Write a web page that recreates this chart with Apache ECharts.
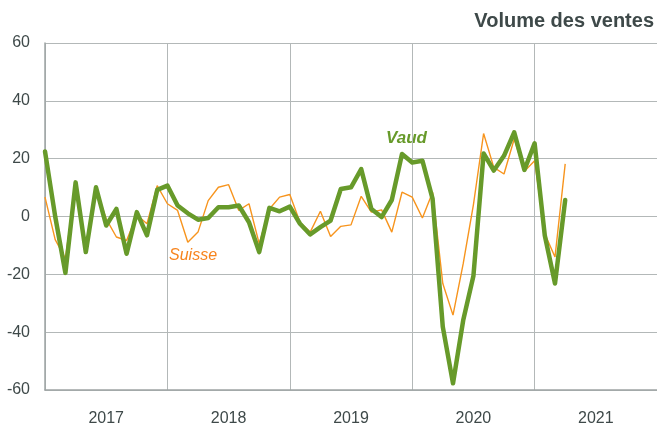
<!DOCTYPE html>
<html>
<head>
<meta charset="utf-8">
<script src="https://cdn.jsdelivr.net/npm/echarts@6/dist/echarts.min.js"></script>
<style>
html,body{margin:0;padding:0;background:#fff;}
#chart{width:657px;height:427px;}
</style>
</head>
<body>
<div id="chart"></div>
<script>
// Month index 0 = January 2017
const years = ['2017', '2018', '2019', '2020', '2021'];
const yTicks = [-60, -40, -20, 0, 20, 40, 60];
const vaud = [22.5, 0, -19.5, 11.8, -12.3, 10.1, -3.1, 2.6, -12.9, 1.5, -6.5, 9.2,
  10.7, 3.8, 1.1, -1.1, -0.5, 3.2, 3.2, 3.8, -2, -12.3, 3, 1.8,
  3.4, -2.5, -6.2, -3.7, -1.4, 9.5, 10.1, 16.4, 2.6, -0.2, 5.7, 21.6,
  18.7, 19.3, 6.1, -38.2, -57.7, -35.9, -20.6, 21.8, 15.9, 21, 29.1, 16.1,
  25.3, -6.6, -23.2, 5.7];
const suisse = [6.7, -8, -14.5, 11, -11.5, 9.5, -0.8, -7.1, -8.3, 0.5, -2.5, 10.7,
  4.4, 2.1, -8.9, -5.4, 5.5, 10.1, 11, 2.1, 4.4, -9.4, 2.6, 6.7,
  7.6, -2, -5.4, 1.8, -6.9, -3.4, -2.9, 7, 1.5, 2.3, -5.4, 8.4,
  6.7, -0.5, 8.4, -23.2, -34.1, -16.3, 4, 28.7, 17, 14.7, 26.8, 15.6,
  19.3, -6, -14, 18.2];
const title = 'Volume des ventes';

const toPairs = arr => arr.map((v, i) => [i, v]);
const gridColor = '#b3b8b8';
const textColor = '#3e4949';

const chart = echarts.init(document.getElementById('chart'), null, {renderer: 'canvas'});
chart.setOption({
  animation: false,
  grid: {left: 45, right: 0, top: 43, bottom: 37, containLabel: false},
  xAxis: [{
    type: 'value', min: 0, max: years.length * 12, interval: 12,
    axisLine: {show: true, onZero: false, lineStyle: {color: '#9ea4a4', width: 1.5}},
    axisTick: {show: false},
    axisLabel: {show: false},
    splitLine: {show: true, lineStyle: {color: gridColor, width: 1}}
  }, {
    type: 'category', data: years, position: 'bottom', boundaryGap: true,
    axisLine: {show: false}, axisTick: {show: false},
    axisLabel: {color: textColor, fontSize: 16, fontFamily: 'Liberation Sans', margin: 21}
  }],
  yAxis: {
    type: 'value', min: yTicks[0], max: yTicks[yTicks.length - 1], interval: 20,
    axisLine: {show: true, lineStyle: {color: '#9ea4a4', width: 1.5}},
    axisTick: {show: false},
    axisLabel: {color: textColor, fontSize: 16, fontFamily: 'Liberation Sans', margin: 15},
    splitLine: {show: true, lineStyle: {color: gridColor, width: 1}}
  },
  series: [{
    name: 'Suisse', type: 'line', xAxisIndex: 0, data: toPairs(suisse),
    showSymbol: false, symbol: 'none',
    lineStyle: {color: '#f7941d', width: 1.4}
  }, {
    name: 'Vaud', type: 'line', xAxisIndex: 0, data: toPairs(vaud),
    showSymbol: false, symbol: 'none',
    lineStyle: {color: '#679a2a', width: 4.5, join: 'round', cap: 'round'}
  }],
  graphic: [{
    type: 'text', right: 3, top: 11,
    style: {text: title, fill: textColor, font: 'bold 20px "Liberation Sans"'}
  }, {
    type: 'text', left: 386, top: 130,
    style: {text: 'Vaud', fill: '#679a2a', font: 'italic bold 17px "Liberation Sans"'}
  }, {
    type: 'text', left: 169, top: 248,
    style: {text: 'Suisse', fill: '#f7841d', font: 'italic 16px "Liberation Sans"'}
  }]
});
</script>
</body>
</html>
